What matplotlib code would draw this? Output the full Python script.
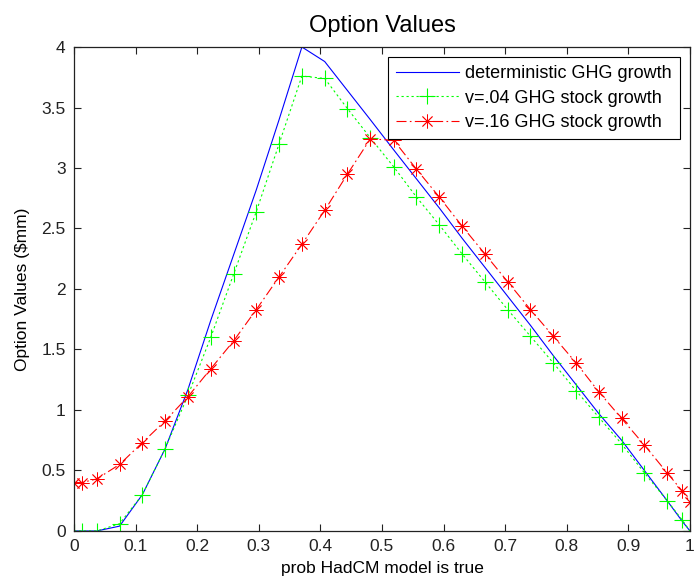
import numpy as np
import matplotlib.pyplot as plt

plt.rcParams['font.family'] = ['Liberation Sans', 'DejaVu Sans']

# probability grid (x) and option values for the three growth cases
prob = [0.0, 0.0125, 0.037, 0.074, 0.111, 0.148, 0.185, 0.222, 0.259, 0.296,
        0.333, 0.370, 0.407, 0.444, 0.481, 0.519, 0.556, 0.593, 0.630, 0.667,
        0.704, 0.741, 0.778, 0.815, 0.852, 0.889, 0.926, 0.963, 0.9875, 1.0]

det_growth = [0.0, 0.0, 0.0, 0.04, 0.30, 0.68, 1.17, 1.74, 2.28, 2.82,
              3.40, 4.00, 3.88, 3.64, 3.40, 3.15, 2.91, 2.67, 2.42, 2.18,
              1.94, 1.70, 1.45, 1.21, 0.97, 0.75, 0.50, 0.25, 0.08, 0.0]

v04_growth = [0.0, 0.0, 0.0, 0.06, 0.30, 0.68, 1.12, 1.60, 2.12, 2.64,
              3.20, 3.76, 3.74, 3.49, 3.25, 3.01, 2.76, 2.53, 2.29, 2.06,
              1.83, 1.61, 1.39, 1.16, 0.94, 0.72, 0.48, 0.25, 0.09, 0.0]

v16_growth = [0.40, 0.40, 0.43, 0.55, 0.73, 0.91, 1.11, 1.34, 1.57, 1.83,
              2.10, 2.37, 2.65, 2.95, 3.24, 3.23, 2.99, 2.76, 2.52, 2.29,
              2.06, 1.83, 1.61, 1.39, 1.15, 0.93, 0.71, 0.48, 0.33, 0.24]

series_labels = ["deterministic GHG growth",
                 "v=.04 GHG stock growth",
                 "v=.16 GHG stock growth"]

fig = plt.figure(figsize=(6.94, 5.84), dpi=100)
ax = fig.add_axes([0.1066, 0.0908, 0.8876, 0.8287])

ax.plot(prob, det_growth, color=(0, 0, 1), lw=0.8, label=series_labels[0])
ax.plot(prob, v04_growth, color=(0, 1, 0), lw=0.8, linestyle=(0, (2, 2.5)),
        marker='+', markersize=11, markeredgewidth=0.8, label=series_labels[1])
ax.plot(prob, v16_growth, color=(1, 0, 0), lw=0.8, linestyle=(0, (9, 3, 1.5, 3)),
        marker=(8, 2, 0), markersize=10, markeredgewidth=0.6, label=series_labels[2])

ax.set_xlim(0, 1)
ax.set_ylim(0, 4)
ax.set_xticks(np.arange(0, 1.01, 0.1))
ax.set_xticklabels(["0", "0.1", "0.2", "0.3", "0.4", "0.5", "0.6", "0.7", "0.8", "0.9", "1"])
ax.set_yticks(np.arange(0, 4.01, 0.5))
ax.set_yticklabels(["0", "0.5", "1", "1.5", "2", "2.5", "3", "3.5", "4"])
ax.tick_params(direction='in', length=5, width=0.8, top=True, right=True,
               labelsize=12.5, colors='#222222', pad=6)
for sp in ax.spines.values():
    sp.set_linewidth(0.9)
    sp.set_color('#222222')

ax.set_title("Option Values", fontsize=17, pad=11)
ax.set_xlabel("prob HadCM model is true", fontsize=12.5, labelpad=5)
ax.set_ylabel("Option Values ($mm)", fontsize=12.5, labelpad=8)

leg = ax.legend(loc='upper right', fontsize=13, fancybox=False, framealpha=1,
                edgecolor='black', handlelength=3.5, numpoints=1,
                borderaxespad=0.55, borderpad=0.45, handletextpad=0.35,
                labelspacing=0.42)
leg.get_frame().set_linewidth(0.8)

fig.savefig("out.png", dpi=100)
